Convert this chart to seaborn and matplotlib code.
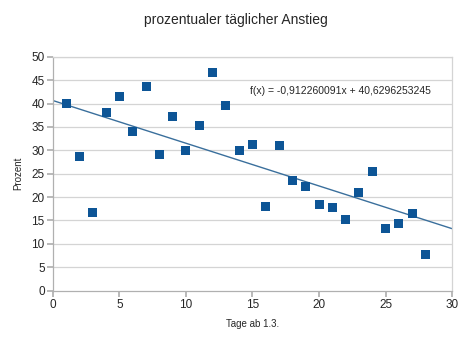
import numpy as np
import pandas as pd
import matplotlib
matplotlib.use("Agg")
import matplotlib.pyplot as plt
import seaborn as sns

days = list(range(1, 29))
percent = [40.0, 28.6, 16.7, 38.0, 41.4, 34.1, 43.6, 29.1, 37.3, 30.0,
           35.2, 46.7, 39.6, 30.0, 31.3, 18.0, 31.0, 23.5, 22.3, 18.5,
           17.8, 15.2, 21.0, 25.4, 13.3, 14.4, 16.5, 7.7]
slope = -0.912260091
intercept = 40.6296253245
equation = "f(x) = -0,912260091x + 40,6296253245"
title = "prozentualer täglicher Anstieg"
xlabel = "Tage ab 1.3."
ylabel = "Prozent"

sns.set_theme(style="white")
plt.rcParams['font.family'] = ['Liberation Sans', 'DejaVu Sans']

df = pd.DataFrame({"Tag": days, "Prozent": percent})
trend_x = np.array([0, 30])
trend = pd.DataFrame({"x": trend_x, "y": slope * trend_x + intercept})

fig = plt.figure(figsize=(4.74, 3.39), dpi=100)
ax = fig.add_axes([0.1118, 0.1425, 0.8418, 0.6902])

grid_c = "#d4d4d4"
ax.set_xlim(0, 30)
ax.set_ylim(0, 50)
ax.set_yticks(range(0, 51, 5))
ax.set_xticks(range(0, 31, 5))
for yv in range(5, 51, 5):
    ax.axhline(yv, color=grid_c, lw=0.9, zorder=0)

sns.lineplot(data=trend, x="x", y="y", ax=ax, color="#3a6f9c", lw=1.0, zorder=2)
sns.scatterplot(data=df, x="Tag", y="Prozent", ax=ax, marker="s", s=42,
                color="#0d5596", edgecolor="none", zorder=3)

for side in ["top", "right", "left", "bottom"]:
    ax.spines[side].set_color(grid_c)
    ax.spines[side].set_linewidth(0.9)
ax.spines["left"].set_color("#b0b0b0")
ax.spines["bottom"].set_color("#b0b0b0")
ax.tick_params(axis="both", which="both", direction="out", length=4,
               color="#b0b0b0", labelsize=8.5, pad=2, left=True, bottom=True)

ax.set_xlabel(xlabel, fontsize=7, labelpad=6)
ax.set_ylabel(ylabel, fontsize=7, labelpad=6)
fig.text(0.497, 1 - 20 / 339, title, fontsize=10, ha="center", va="center")
ax.text(21.6, 42.7, equation, fontsize=7.5, ha="center", va="center")

fig.savefig("out.png", dpi=100)
